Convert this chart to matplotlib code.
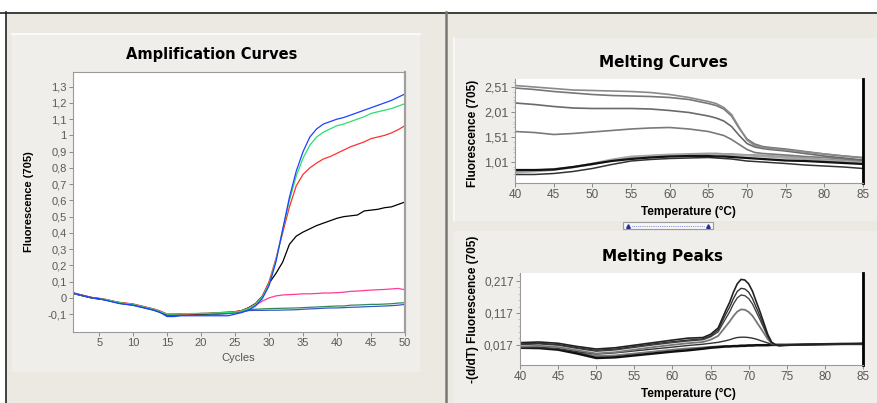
import matplotlib
matplotlib.use("Agg")
import matplotlib.pyplot as plt
from matplotlib.patches import Rectangle
from matplotlib.lines import Line2D

W, H = 878, 403

# ---------------- data ----------------
cycles = list(range(1, 51))
amp_blue = [0.035,0.02,0.01,0.0,-0.005,-0.015,-0.025,-0.035,-0.04,-0.045,-0.055,-0.065,-0.075,-0.09,-0.115,-0.115,-0.11,-0.11,-0.11,-0.11,-0.11,-0.11,-0.11,-0.11,-0.1,-0.09,
            -0.075,-0.05,-0.005,0.075,0.22,0.42,0.62,0.78,0.9,0.99,1.04,1.07,1.085,1.1,1.11,1.125,1.14,1.155,1.17,1.185,1.2,1.215,1.235,1.255]
amp_green = [0.03,0.02,0.01,0.0,-0.005,-0.01,-0.02,-0.03,-0.035,-0.04,-0.05,-0.06,-0.07,-0.085,-0.1,-0.1,-0.098,-0.097,-0.096,-0.095,-0.095,-0.093,-0.092,-0.09,-0.087,-0.08,
             -0.065,-0.04,0.005,0.085,0.23,0.42,0.6,0.75,0.86,0.94,0.99,1.02,1.04,1.06,1.07,1.085,1.1,1.115,1.135,1.145,1.155,1.165,1.18,1.195]
amp_red = [0.03,0.022,0.012,0.002,-0.003,-0.01,-0.02,-0.028,-0.033,-0.038,-0.048,-0.058,-0.068,-0.082,-0.1,-0.1,-0.1,-0.1,-0.098,-0.096,-0.095,-0.093,-0.09,-0.088,-0.085,-0.078,
           -0.062,-0.038,0.01,0.1,0.24,0.4,0.56,0.69,0.76,0.8,0.83,0.855,0.87,0.89,0.91,0.93,0.945,0.96,0.98,0.99,1.0,1.015,1.035,1.06]
amp_black = [0.028,0.018,0.008,-0.002,-0.007,-0.012,-0.022,-0.03,-0.036,-0.042,-0.052,-0.062,-0.072,-0.088,-0.103,-0.103,-0.1,-0.1,-0.1,-0.098,-0.097,-0.094,-0.092,-0.09,-0.086,-0.078,
             -0.06,-0.035,0.01,0.09,0.15,0.22,0.33,0.38,0.405,0.425,0.445,0.46,0.475,0.49,0.5,0.505,0.51,0.535,0.54,0.545,0.555,0.56,0.575,0.59]
amp_pink = [0.03,0.022,0.012,0.002,-0.003,-0.01,-0.02,-0.028,-0.033,-0.038,-0.048,-0.058,-0.068,-0.082,-0.1,-0.1,-0.1,-0.1,-0.098,-0.096,-0.095,-0.093,-0.09,-0.088,-0.085,-0.078,
            -0.065,-0.045,-0.02,0.0,0.012,0.018,0.02,0.022,0.025,0.025,0.027,0.03,0.03,0.032,0.035,0.04,0.042,0.045,0.048,0.05,0.052,0.055,0.058,0.05]
amp_teal = [0.03,0.02,0.01,0.0,-0.005,-0.012,-0.022,-0.032,-0.038,-0.043,-0.053,-0.063,-0.073,-0.088,-0.105,-0.105,-0.1,-0.1,-0.1,-0.1,-0.1,-0.097,-0.095,-0.093,-0.09,-0.083,
            -0.072,-0.07,-0.068,-0.066,-0.065,-0.064,-0.063,-0.062,-0.06,-0.058,-0.056,-0.054,-0.052,-0.05,-0.05,-0.045,-0.044,-0.042,-0.04,-0.04,-0.038,-0.036,-0.032,-0.03]
amp_lowblue = [0.032,0.02,0.01,0.0,-0.006,-0.014,-0.024,-0.034,-0.04,-0.046,-0.056,-0.066,-0.076,-0.09,-0.11,-0.11,-0.108,-0.106,-0.105,-0.104,-0.104,-0.102,-0.1,-0.097,-0.093,-0.086,
               -0.078,-0.077,-0.077,-0.076,-0.076,-0.075,-0.074,-0.073,-0.07,-0.068,-0.066,-0.064,-0.062,-0.062,-0.06,-0.058,-0.057,-0.055,-0.053,-0.052,-0.05,-0.048,-0.045,-0.04]
amp_series = [amp_lowblue, amp_teal, amp_pink, amp_black, amp_red, amp_green, amp_blue]
amp_colors = ["#3858c8", "#2e8b57", "#ff3c96", "#000000", "#ff3030", "#28e070", "#2040ff"]
amp_xticks = [5, 10, 15, 20, 25, 30, 35, 40, 45, 50]
amp_yticks = [-0.1, 0.0, 0.1, 0.2, 0.3, 0.4, 0.5, 0.6, 0.7, 0.8, 0.9, 1.0, 1.1, 1.2, 1.3]
amp_ylabels = ["-0,1", "0", "0,1", "0,2", "0,3", "0,4", "0,5", "0,6", "0,7", "0,8", "0,9", "1", "1,1", "1,2", "1,3"]

melt_t = [40,42.5,45,47.5,50,52.5,55,57.5,60,62.5,65,66,67,68,69,70,71,72,73,75,77.5,80,82.5,85]
melt_c1 = [2.54,2.51,2.48,2.45,2.44,2.43,2.42,2.4,2.36,2.3,2.22,2.18,2.1,1.96,1.7,1.45,1.34,1.3,1.28,1.25,1.21,1.17,1.13,1.09]
melt_c2 = [2.49,2.46,2.42,2.39,2.36,2.34,2.33,2.32,2.3,2.26,2.18,2.14,2.07,1.93,1.68,1.47,1.37,1.32,1.3,1.27,1.22,1.17,1.13,1.1]
melt_c3 = [2.19,2.16,2.12,2.09,2.08,2.08,2.08,2.07,2.04,2.0,1.93,1.89,1.83,1.72,1.54,1.38,1.31,1.28,1.26,1.23,1.18,1.13,1.09,1.05]
melt_c4 = [1.62,1.6,1.56,1.58,1.61,1.64,1.67,1.69,1.7,1.67,1.62,1.58,1.54,1.46,1.36,1.26,1.2,1.18,1.17,1.15,1.12,1.1,1.07,1.04]
melt_l1 = [0.85,0.85,0.86,0.91,0.97,1.03,1.07,1.1,1.12,1.13,1.13,1.12,1.12,1.11,1.1,1.09,1.08,1.07,1.06,1.04,1.03,1.01,0.99,0.97]
melt_l2 = [0.76,0.76,0.78,0.82,0.88,0.96,1.03,1.06,1.08,1.09,1.1,1.09,1.08,1.07,1.05,1.03,1.02,1.01,1.0,0.98,0.95,0.93,0.91,0.88]
melt_l3 = [0.82,0.84,0.87,0.91,0.96,1.04,1.1,1.13,1.15,1.17,1.18,1.18,1.17,1.17,1.16,1.15,1.15,1.14,1.13,1.12,1.09,1.06,1.04,1.02]
melt_l4 = [0.8,0.82,0.85,0.9,0.98,1.06,1.12,1.14,1.16,1.16,1.15,1.15,1.15,1.14,1.14,1.14,1.13,1.12,1.11,1.09,1.07,1.04,1.01,0.98]
melt_series = [melt_l3, melt_l4, melt_l2, melt_l1, melt_c4, melt_c3, melt_c2, melt_c1]
melt_colors = ["#9a9a9a", "#a8a8a8", "#333333", "#111111", "#7a7a7a", "#6a6a6a", "#777777", "#8a8a8a"]
melt_lw = [1.4, 1.4, 1.1, 1.6, 1.2, 1.2, 1.2, 1.2]
temp_ticks = [40, 45, 50, 55, 60, 65, 70, 75, 80, 85]
melt_yticks = [1.01, 1.51, 2.01, 2.51]
melt_ylabels = ["1,01", "1,51", "2,01", "2,51"]

peak_t = [40,42.5,45,47.5,50,52.5,55,57.5,60,62,
          64,65,66,67,67.5,68,68.5,69,69.5,70,70.5,71,71.5,72,72.5,73,73.5,74,
          75,77.5,80,82.5,85]
peak_p1 = [0.024,0.026,0.022,0.012,0.004,0.008,0.016,0.024,0.032,0.038,
           0.04,0.05,0.07,0.125,0.15,0.182,0.208,0.222,0.22,0.208,0.185,0.152,0.12,0.085,0.05,0.026,0.017,0.015,
           0.016,0.018,0.02,0.02,0.021]
peak_p2 = [0.02,0.022,0.018,0.008,0.0,0.004,0.012,0.02,0.027,0.032,
           0.036,0.045,0.064,0.113,0.135,0.162,0.184,0.194,0.192,0.182,0.162,0.134,0.106,0.076,0.046,0.025,0.017,0.015,
           0.016,0.018,0.019,0.02,0.021]
peak_p3 = [0.018,0.02,0.016,0.006,-0.003,0.001,0.009,0.017,0.024,0.029,
           0.033,0.042,0.058,0.1,0.12,0.145,0.164,0.173,0.171,0.162,0.145,0.12,0.095,0.069,0.043,0.024,0.017,0.015,
           0.016,0.018,0.019,0.02,0.021]
peak_p4 = [0.012,0.014,0.01,0.0,-0.01,-0.006,0.002,0.01,0.017,0.022,
           0.026,0.033,0.045,0.075,0.09,0.107,0.121,0.128,0.127,0.12,0.108,0.09,0.072,0.054,0.035,0.022,0.017,0.015,
           0.016,0.018,0.019,0.02,0.021]
peak_p5 = [0.008,0.009,0.005,-0.004,-0.012,-0.008,-0.002,0.004,0.01,0.015,
           0.019,0.022,0.025,0.03,0.033,0.037,0.04,0.041,0.041,0.04,0.038,0.035,0.031,0.027,0.023,0.019,0.016,0.015,
           0.016,0.018,0.019,0.02,0.021]
peak_f1 = [0.008,0.007,0.002,-0.01,-0.024,-0.022,-0.016,-0.01,-0.004,0.0,
           0.005,0.008,0.01,0.012,0.012,0.013,0.013,0.014,0.014,0.015,0.015,0.016,0.016,0.016,0.016,0.017,0.017,0.017,
           0.017,0.018,0.019,0.02,0.02]
peak_f2 = [0.01,0.009,0.004,-0.006,-0.018,-0.016,-0.01,-0.004,0.002,0.006,
           0.009,0.011,0.012,0.013,0.013,0.014,0.014,0.015,0.015,0.016,0.016,0.016,0.016,0.016,0.017,0.017,0.017,0.017,
           0.017,0.018,0.019,0.02,0.02]
peak_series = [peak_f2, peak_f1, peak_p5, peak_p4, peak_p3, peak_p2, peak_p1]
peak_colors = ["#777777", "#111111", "#333333", "#777777", "#444444", "#333333", "#222222"]
peak_lw = [1.3, 1.8, 1.0, 1.3, 1.0, 1.0, 1.2]
peak_yticks = [0.017, 0.117, 0.217]
peak_ylabels = ["0,017", "0,117", "0,217"]

# ---------------- figure ----------------
FONT = "Liberation Sans"
BG = "#ece9e3"
PANEL = "#f0eeea"
TICKC = "#5a5a5a"

fig = plt.figure(figsize=(W / 100, H / 100), dpi=100)
fig.patch.set_facecolor(BG)

def fx(x):
    return x / W

def fy(y):
    return 1 - y / H

def rect(x0, y0, x1, y1, **kw):
    fig.add_artist(Rectangle((fx(x0), fy(y1)), fx(x1) - fx(x0), fy(y0) - fy(y1),
                             transform=fig.transFigure, **kw))

def hline(x0, x1, y, **kw):
    fig.add_artist(Line2D([fx(x0), fx(x1)], [fy(y), fy(y)], transform=fig.transFigure, **kw))

def vline(x, y0, y1, **kw):
    fig.add_artist(Line2D([fx(x), fx(x)], [fy(y0), fy(y1)], transform=fig.transFigure, **kw))

# window frame
rect(0, 0, W, 12, facecolor="white", edgecolor="none", zorder=0)
rect(0, 0, 6, H, facecolor="white", edgecolor="none", zorder=0)
rect(12, 33, 420, 372, facecolor=PANEL, edgecolor="none", zorder=0)
hline(12, 420, 33.5, color="#fbfaf8", lw=1.5, zorder=1)
rect(454, 38, W, 221, facecolor=PANEL, edgecolor="none", zorder=0)
vline(454.5, 38, 221, color="#fbfaf8", lw=1.2, zorder=1)
rect(453, 231, W, H, facecolor=PANEL, edgecolor="none", zorder=0)
hline(0, W, 12.5, color="#222222", lw=1.2, zorder=2)
vline(6, 12, H, color="#222222", lw=1.2, zorder=2)
vline(446.5, 12, H, color="#777777", lw=1.8, zorder=2)

# splitter widget
rect(623, 222, 713, 229, facecolor="#f6f6f6", edgecolor="#9a9a9a", lw=0.8, zorder=3)
hline(632, 704, 225.5, color="#6070c0", lw=0.6, ls=(0, (1, 1.2)), zorder=4)
fig.add_artist(Line2D([fx(628), fx(708)], [fy(225.7), fy(225.7)], transform=fig.transFigure,
                      ls="none", marker="^", ms=2.6, color="#2030a0", zorder=5))


def style_axes(ax):
    ax.set_facecolor("white")
    ax.tick_params(axis="both", which="major", direction="out", length=3, width=0.7,
                   color="#8a8a8a", labelcolor=TICKC, labelsize=8, pad=1.5)
    ax.tick_params(axis="both", which="minor", direction="out", length=1.5, width=0.5,
                   color="#b0b0b0")
    for lab in ax.get_xticklabels() + ax.get_yticklabels():
        lab.set_fontfamily(FONT)


# ---------------- Amplification Curves ----------------
ax1 = fig.add_axes([fx(73), fy(332), fx(405) - fx(73), fy(72) - fy(332)])
for ys, c in zip(amp_series, amp_colors):
    ax1.plot(cycles, ys, color=c, lw=0.9)
ax1.set_xlim(1.15, 50)
ax1.set_ylim(-0.21, 1.39)
ax1.set_xticks(amp_xticks)
ax1.set_yticks(amp_yticks)
ax1.set_yticklabels(amp_ylabels)
for s in ["left", "bottom", "top"]:
    ax1.spines[s].set_color("#9a9a9a")
    ax1.spines[s].set_linewidth(0.8)
ax1.spines["right"].set_color("#a0a0a0")
ax1.spines["right"].set_linewidth(1.6)
style_axes(ax1)
fig.text(fx(212), fy(55), "Amplification Curves", ha="center", va="center",
         fontsize=10.5, fontweight="bold", family="DejaVu Sans")
fig.text(fx(238), fy(358), "Cycles", ha="center", va="center", fontsize=8,
         color="#555555", family=FONT)
fig.text(fx(29), fy(202), "Fluorescence (705)", ha="center", va="center", rotation=90,
         fontsize=8, fontweight="bold", family=FONT)

# ---------------- Melting Curves ----------------
ax2 = fig.add_axes([fx(515), fy(183), fx(863) - fx(515), fy(79) - fy(183)])
for ys, c, lw in zip(melt_series, melt_colors, melt_lw):
    ax2.plot(melt_t, ys, color=c, lw=lw)
ax2.set_xlim(40, 85)
ax2.set_ylim(0.59, 2.67)
ax2.set_xticks(temp_ticks)
ax2.set_yticks(melt_yticks)
ax2.set_yticklabels(melt_ylabels)
ax2.set_yticks([0.76, 0.86, 0.91, 1.11, 1.21, 1.26, 1.31, 1.41, 1.61, 1.71, 1.76, 1.81, 1.91, 2.11, 2.21, 2.26, 2.31, 2.41, 2.61], minor=True)
ax2.spines["top"].set_visible(False)
ax2.spines["left"].set_color("#9a9a9a")
ax2.spines["bottom"].set_color("#9a9a9a")
ax2.spines["left"].set_linewidth(0.8)
ax2.spines["bottom"].set_linewidth(0.8)
ax2.spines["right"].set_color("black")
ax2.spines["right"].set_linewidth(2)
style_axes(ax2)
ax2.tick_params(axis="y", labelsize=9)
ax2.tick_params(axis="x", labelsize=8.5)
fig.text(fx(663), fy(62), "Melting Curves", ha="center", va="center",
         fontsize=11, fontweight="bold", family="DejaVu Sans")
fig.text(fx(688), fy(212), "Temperature (°C)", ha="center", va="center",
         fontsize=8.5, fontweight="bold", family=FONT)
fig.text(fx(473), fy(133), "Fluorescence (705)", ha="center", va="center", rotation=90,
         fontsize=8.5, fontweight="bold", family=FONT)

# ---------------- Melting Peaks ----------------
ax3 = fig.add_axes([fx(520), fy(365), fx(863) - fx(520), fy(273) - fy(365)])
for ys, c, lw in zip(peak_series, peak_colors, peak_lw):
    ax3.plot(peak_t, ys, color=c, lw=lw)
ax3.set_xlim(40, 85)
ax3.set_ylim(-0.046, 0.242)
ax3.set_xticks(temp_ticks)
ax3.set_yticks(peak_yticks)
ax3.set_yticklabels(peak_ylabels)
ax3.set_yticks([0.037, 0.057, 0.077, 0.097, 0.137, 0.157, 0.177, 0.197, 0.237], minor=True)
ax3.spines["top"].set_visible(False)
ax3.spines["left"].set_color("#9a9a9a")
ax3.spines["bottom"].set_color("#9a9a9a")
ax3.spines["left"].set_linewidth(0.8)
ax3.spines["bottom"].set_linewidth(0.8)
ax3.spines["right"].set_color("black")
ax3.spines["right"].set_linewidth(2)
style_axes(ax3)
ax3.tick_params(axis="y", labelsize=8.5)
ax3.tick_params(axis="x", labelsize=8.5)
fig.text(fx(663), fy(256), "Melting Peaks", ha="center", va="center",
         fontsize=11, fontweight="bold", family="DejaVu Sans")
fig.text(fx(688), fy(394), "Temperature (°C)", ha="center", va="center",
         fontsize=8.5, fontweight="bold", family=FONT)
fig.text(fx(473), fy(236), "-(d/dT) Fluorescence (705)", ha="center", va="top", rotation=90,
         fontsize=8.5, fontweight="bold", family=FONT)

fig.savefig("out.png", dpi=100, facecolor=fig.get_facecolor())
